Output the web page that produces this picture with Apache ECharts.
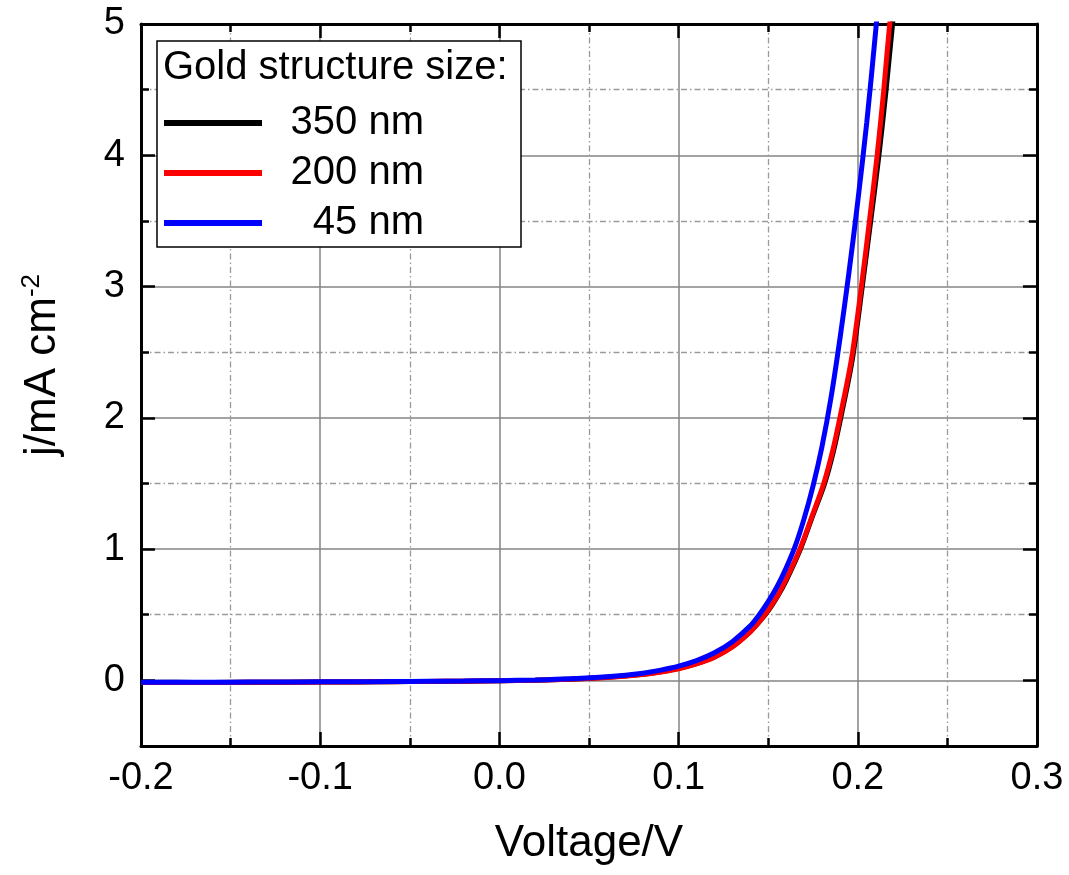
<!DOCTYPE html>
<html>
<head>
<meta charset="utf-8">
<script src="https://cdn.jsdelivr.net/npm/echarts@6/dist/echarts.min.js"></script>
<style>
  html, body { margin: 0; padding: 0; background: #fff; }
  #chart { width: 1069px; height: 875px; }
</style>
</head>
<body>
<div id="chart"></div>
<script>
// ---- Data ----
const legendTitle = 'Gold structure size:';
const seriesNames = ['350 nm', '200 nm', '45 nm'];
const seriesColors = ['#000000', '#ff0000', '#0000ff'];

const flatV = [-0.2, -0.18, -0.16, -0.14, -0.12, -0.1, -0.08, -0.06, -0.04, -0.02, 0, 0.02, 0.04, 0.06, 0.08];

// 350 nm (black)
const v350 = flatV.concat([0.09, 0.1, 0.11, 0.12, 0.13, 0.14, 0.145, 0.15, 0.155, 0.16, 0.168, 0.175, 0.1815, 0.1865, 0.1905, 0.197, 0.2025, 0.2072, 0.2118, 0.2158, 0.2194, 0.2225]);
const j350 = [-0.016, -0.015, -0.016, -0.014, -0.014, -0.012, -0.012, -0.010, -0.008, -0.006, -0.003, 0.001, 0.010, 0.023, 0.047,
              0.066, 0.092, 0.128, 0.178, 0.258, 0.372, 0.445, 0.53, 0.635, 0.76, 1.0, 1.26, 1.5, 1.75, 2.0, 2.45, 3.0, 3.5, 4.0, 4.5, 5.0, 5.4];

// 200 nm (red)
const v200 = flatV.concat([0.09, 0.1, 0.11, 0.12, 0.13, 0.14, 0.145, 0.15, 0.155, 0.16, 0.1677, 0.175, 0.181, 0.186, 0.19, 0.1965, 0.202, 0.2065, 0.2108, 0.2145, 0.2178, 0.221]);
const j200 = [-0.017, -0.016, -0.016, -0.015, -0.014, -0.013, -0.012, -0.010, -0.008, -0.006, -0.003, 0.001, 0.009, 0.022, 0.045,
              0.063, 0.088, 0.125, 0.177, 0.255, 0.37, 0.445, 0.535, 0.64, 0.77, 1.0, 1.27, 1.5, 1.75, 2.0, 2.45, 3.0, 3.5, 4.0, 4.5, 5.0, 5.4];

// 45 nm (blue)
const v45 = flatV.concat([0.09, 0.1, 0.11, 0.12, 0.13, 0.14, 0.145, 0.15, 0.155, 0.16, 0.165, 0.17, 0.175, 0.18, 0.185, 0.19, 0.195, 0.2, 0.205, 0.21, 0.215]);
const j45 = [-0.015, -0.014, -0.015, -0.013, -0.013, -0.011, -0.011, -0.009, -0.007, -0.005, -0.002, 0.003, 0.012, 0.028, 0.055,
             0.078, 0.108, 0.15, 0.21, 0.295, 0.415, 0.50, 0.60, 0.715, 0.855, 1.02, 1.23, 1.48, 1.78, 2.15, 2.60, 3.10, 3.65, 4.25, 4.95, 5.7];

const xMin = -0.2, xMax = 0.3, xStep = 0.1;
const yMin = -0.5, yMax = 5;

// ---- Chart ----
const FONT = "'Liberation Sans', Arial, sans-serif";
const pair = (vs, js) => vs.map((v, i) => [v, js[i]]);
const seriesData = [pair(v350, j350), pair(v200, j200), pair(v45, j45)];

const majorGrid = { show: true, lineStyle: { color: '#858585', width: 1.5, type: 'solid' } };
const minorGrid = { show: true, lineStyle: { color: '#9a9a9a', width: 1.3, type: [6, 3, 1.5, 3] } };
const axisLine = { show: true, onZero: false, lineStyle: { color: '#000', width: 3 } };
const tick = { show: true, inside: true, length: 14, lineStyle: { color: '#000', width: 2.5 } };
const mTick = { show: true, splitNumber: 2, length: 8, lineStyle: { color: '#000', width: 2.5 } };

const chart = echarts.init(document.getElementById('chart'), null, { renderer: 'canvas' });
chart.setOption({
  backgroundColor: '#ffffff',
  animation: false,
  grid: { left: 141, right: 32, top: 24, bottom: 129, containLabel: false },
  xAxis: [{
    type: 'value', min: xMin, max: xMax, interval: xStep, position: 'bottom',
    name: 'Voltage/V', nameLocation: 'middle', nameGap: 76,
    nameTextStyle: { fontFamily: FONT, fontSize: 44, color: '#000' },
    axisLine: axisLine, axisTick: tick, minorTick: mTick,
    axisLabel: { fontFamily: FONT, fontSize: 38, color: '#000', margin: 14,
                 formatter: v => (Math.abs(v) < 1e-9 ? 0 : v).toFixed(1) },
    splitLine: majorGrid, minorSplitLine: minorGrid
  }, {
    type: 'value', min: xMin, max: xMax, interval: xStep, position: 'top',
    axisLine: axisLine, axisTick: tick, minorTick: mTick,
    axisLabel: { show: false }, splitLine: { show: false }
  }],
  yAxis: [{
    type: 'value', min: yMin, max: yMax, splitNumber: 5, position: 'left',
    name: '{a|j/mA cm}{b|-2}', nameLocation: 'middle', nameGap: 74, nameRotate: 90,
    nameTextStyle: {
      fontFamily: FONT, color: '#000', padding: [0, 0, 0, 40],
      rich: {
        a: { fontFamily: FONT, fontSize: 44, color: '#000', lineHeight: 48 },
        b: { fontFamily: FONT, fontSize: 26, color: '#000', verticalAlign: 'top', lineHeight: 48, padding: [0, 0, 18, 0] }
      }
    },
    axisLine: axisLine, axisTick: tick, minorTick: mTick,
    axisLabel: { fontFamily: FONT, fontSize: 38, color: '#000', margin: 16,
                 formatter: v => (Math.abs(v - Math.round(v)) < 1e-9 ? String(Math.round(v)) : '') },
    splitLine: majorGrid, minorSplitLine: minorGrid
  }, {
    type: 'value', min: yMin, max: yMax, splitNumber: 5, position: 'right',
    axisLine: axisLine, axisTick: tick, minorTick: mTick,
    axisLabel: { show: false }, splitLine: { show: false }
  }],
  legend: {
    orient: 'vertical', left: 159, top: 98, z: 5,
    itemWidth: 98, itemHeight: 6, itemGap: 10, icon: 'rect',
    data: seriesNames,
    formatter: name => '{r|' + name + '}',
    textStyle: {
      fontFamily: FONT, fontSize: 40, color: '#000',
      rich: { r: { fontFamily: FONT, fontSize: 40, color: '#000', width: 157, align: 'right', lineHeight: 40 } }
    }
  },
  graphic: [{
    type: 'rect', z: 3, shape: { x: 157, y: 41, width: 364, height: 206 },
    style: { fill: '#fff', stroke: '#000', lineWidth: 1.5 }
  }, {
    type: 'text', z: 4, x: 163, y: 68,
    style: { text: legendTitle, font: '40px ' + FONT, fill: '#000', textVerticalAlign: 'middle', verticalAlign: 'middle' }
  }],
  series: seriesNames.map((n, i) => ({
    name: n, type: 'line', xAxisIndex: 0, yAxisIndex: 0,
    data: seriesData[i], showSymbol: false, symbol: 'none', smooth: 0.3,
    clip: true, z: 2 + i,
    lineStyle: { color: seriesColors[i], width: 5 },
    itemStyle: { color: seriesColors[i] }
  }))
});
</script>
</body>
</html>
